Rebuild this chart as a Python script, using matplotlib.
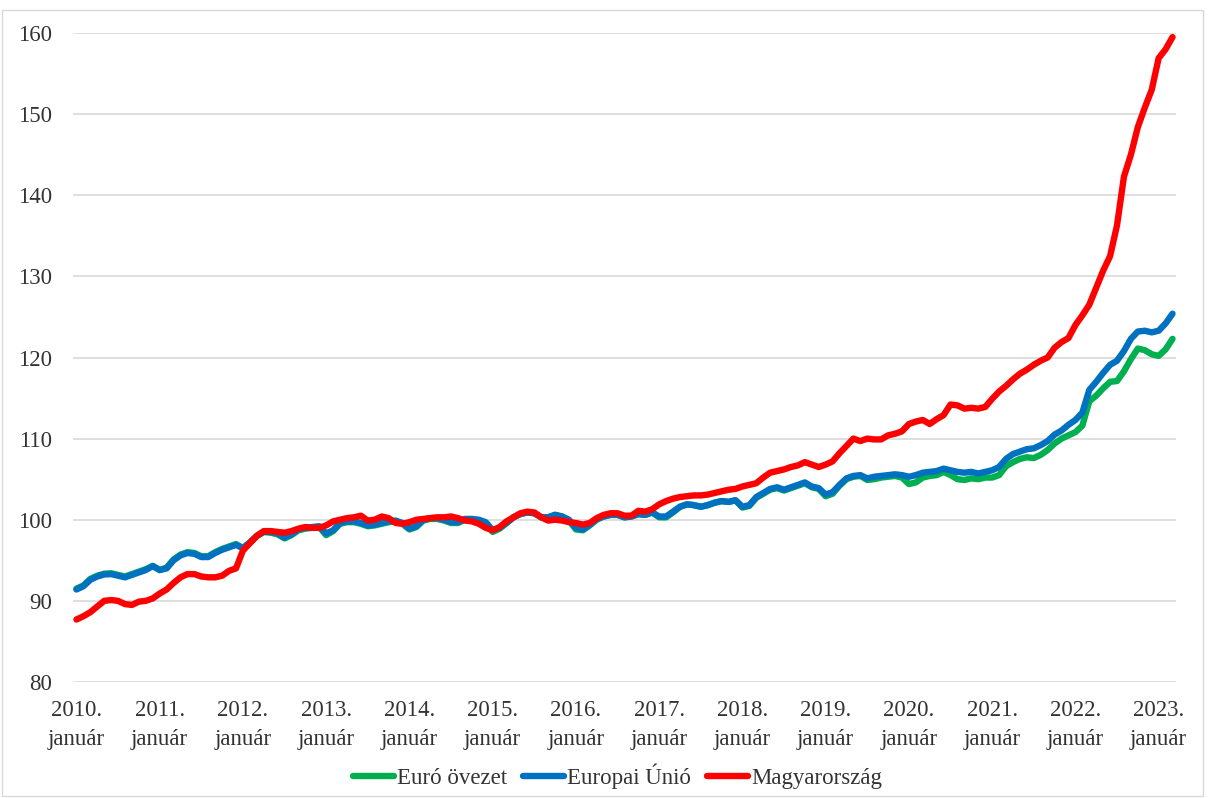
import matplotlib
matplotlib.use("Agg")
import matplotlib.pyplot as plt
from matplotlib.patches import Rectangle

plt.rcParams['font.family'] = ['Liberation Serif', 'DejaVu Serif']

# Monthly index values, 2010 January - 2023 March
euro_ovezet = [
    # 2010
    91.5, 91.9, 92.7, 93.1, 93.35, 93.4, 93.2, 93.0, 93.3, 93.6, 93.9, 94.3,
    # 2011
    93.8, 94.1, 95.1, 95.7, 96.0, 95.9, 95.5, 95.5, 96.0, 96.4, 96.7, 97.0,
    # 2012
    96.5, 97.2, 98.0, 98.5, 98.4, 98.2, 97.7, 98.1, 98.7, 98.9, 99.0, 99.1,
    # 2013
    98.1, 98.6, 99.5, 99.7, 99.7, 99.5, 99.2, 99.3, 99.5, 99.7, 99.8, 99.5,
    # 2014
    98.8, 99.1, 99.9, 100.1, 100.1, 99.9, 99.6, 99.6, 100.0, 100.0, 99.9, 99.5,
    # 2015
    98.5, 98.9, 99.6, 100.3, 100.7, 100.9, 100.8, 100.3, 100.3, 100.6, 100.4, 99.9,
    # 2016
    98.8, 98.7, 99.3, 100.0, 100.4, 100.6, 100.6, 100.3, 100.4, 100.7, 100.6, 100.9,
    # 2017
    100.3, 100.3, 100.9, 101.6, 101.9, 101.8, 101.6, 101.8, 102.1, 102.3, 102.2, 102.4,
    # 2018
    101.5, 101.7, 102.7, 103.2, 103.7, 103.9, 103.6, 103.9, 104.2, 104.5, 104.0, 103.8,
    # 2019
    102.9, 103.2, 104.2, 105.0, 105.3, 105.4, 104.9, 105.0, 105.2, 105.3, 105.4, 105.2,
    # 2020
    104.4, 104.6, 105.2, 105.4, 105.5, 105.9, 105.5, 105.0, 104.9, 105.1, 105.0, 105.2,
    # 2021
    105.2, 105.5, 106.6, 107.1, 107.5, 107.7, 107.6, 108.0, 108.6, 109.4, 110.0, 110.4,
    # 2022
    110.8, 111.6, 114.6, 115.3, 116.2, 117.0, 117.1, 118.3, 119.8, 121.1, 120.9, 120.4,
    # 2023
    120.2, 121.0, 122.3,
]

europai_unio = [
    # 2010
    91.4, 91.8, 92.6, 93.0, 93.25, 93.3, 93.1, 92.9, 93.2, 93.5, 93.8, 94.3,
    # 2011
    93.8, 94.0, 95.0, 95.6, 95.9, 95.8, 95.4, 95.4, 95.9, 96.3, 96.6, 96.9,
    # 2012
    96.5, 97.2, 98.0, 98.5, 98.5, 98.3, 97.8, 98.2, 98.8, 99.0, 99.1, 99.2,
    # 2013
    98.3, 98.7, 99.6, 99.8, 99.8, 99.6, 99.3, 99.4, 99.6, 99.8, 99.9, 99.6,
    # 2014
    98.9, 99.2, 100.0, 100.2, 100.2, 100.0, 99.7, 99.7, 100.1, 100.1, 100.0, 99.7,
    # 2015
    98.7, 99.0, 99.6, 100.3, 100.7, 100.9, 100.8, 100.3, 100.3, 100.6, 100.4, 100.0,
    # 2016
    99.0, 98.8, 99.4, 100.1, 100.4, 100.6, 100.6, 100.3, 100.4, 100.7, 100.6, 100.9,
    # 2017
    100.4, 100.4, 101.0, 101.6, 101.9, 101.8, 101.6, 101.8, 102.1, 102.3, 102.2, 102.4,
    # 2018
    101.6, 101.8, 102.8, 103.3, 103.8, 104.0, 103.7, 104.0, 104.3, 104.6, 104.1, 103.9,
    # 2019
    103.1, 103.4, 104.3, 105.1, 105.4, 105.5, 105.1, 105.3, 105.4, 105.5, 105.6, 105.5,
    # 2020
    105.3, 105.5, 105.8, 105.9, 106.0, 106.3, 106.1, 105.9, 105.8, 105.9, 105.7, 105.9,
    # 2021
    106.1, 106.5, 107.5, 108.1, 108.4, 108.7, 108.8, 109.2, 109.7, 110.5, 111.0, 111.7,
    # 2022
    112.3, 113.2, 116.0, 117.0, 118.1, 119.1, 119.6, 120.8, 122.3, 123.2, 123.3, 123.1,
    # 2023
    123.3, 124.2, 125.4,
]

magyarorszag = [
    # 2010
    87.7, 88.1, 88.6, 89.3, 90.0, 90.1, 90.0, 89.6, 89.5, 89.9, 90.0, 90.3,
    # 2011
    90.9, 91.4, 92.2, 92.9, 93.3, 93.3, 93.0, 92.9, 92.9, 93.1, 93.7, 94.0,
    # 2012
    96.2, 97.1, 98.0, 98.6, 98.6, 98.5, 98.4, 98.6, 98.9, 99.1, 99.0, 99.0,
    # 2013
    99.3, 99.8, 100.0, 100.2, 100.3, 100.5, 99.9, 100.0, 100.4, 100.2, 99.6, 99.5,
    # 2014
    99.7, 100.0, 100.1, 100.2, 100.3, 100.3, 100.4, 100.2, 99.9, 99.8, 99.5, 99.0,
    # 2015
    98.7, 99.1, 99.8, 100.3, 100.8, 101.0, 100.9, 100.3, 99.9, 100.0, 99.9, 99.7,
    # 2016
    99.6, 99.4, 99.6, 100.2, 100.6, 100.8, 100.8, 100.5, 100.5, 101.1, 101.0, 101.3,
    # 2017
    101.9, 102.3, 102.6, 102.8, 102.9, 103.0, 103.0, 103.1, 103.3, 103.5, 103.7, 103.8,
    # 2018
    104.1, 104.3, 104.5, 105.2, 105.8, 106.0, 106.2, 106.5, 106.7, 107.1, 106.8, 106.5,
    # 2019
    106.8, 107.2, 108.2, 109.1, 110.0, 109.7, 110.0, 109.9, 109.9, 110.4, 110.6, 110.9,
    # 2020
    111.8, 112.1, 112.3, 111.8, 112.4, 112.9, 114.2, 114.1, 113.7, 113.8, 113.7, 113.9,
    # 2021
    114.9, 115.8, 116.5, 117.3, 118.0, 118.5, 119.1, 119.6, 120.0, 121.2, 121.9, 122.4,
    # 2022
    124.0, 125.2, 126.5, 128.6, 130.7, 132.5, 136.3, 142.3, 145.0, 148.4, 150.8, 153.0,
    # 2023
    156.9, 158.0, 159.5,
]

series_names = ["Euró övezet", "Europai Únió", "Magyarország"]
series_colors = ["#00B050", "#0070C0", "#FF0000"]
year_labels = [f"{y}.\njanuár" for y in range(2010, 2024)]
y_ticks = [80, 90, 100, 110, 120, 130, 140, 150, 160]

fig = plt.figure(figsize=(12.08, 7.98), dpi=100)
ax = fig.add_axes([0.0604, 0.1454, 0.9131, 0.8132])

x = list(range(len(magyarorszag)))
for data, name, color in zip([euro_ovezet, europai_unio, magyarorszag], series_names, series_colors):
    ax.plot(x, data, color=color, lw=4.6, label=name, solid_capstyle='round', solid_joinstyle='round')

ax.set_xlim(-0.5, len(x) - 0.5)
ax.set_ylim(80, 160)
ax.set_yticks(y_ticks)
ax.set_xticks(list(range(0, len(x), 12)))
ax.set_xticklabels(year_labels)
ax.tick_params(axis='both', length=0, labelsize=16.5, colors='#333333')
ax.tick_params(axis='x', pad=13)
ax.tick_params(axis='y', pad=15)
for lbl in ax.get_xticklabels():
    lbl.set_linespacing(1.5)
ax.grid(axis='y', color='#D9D9D9', lw=1.2)
ax.set_axisbelow(True)
for s in ax.spines.values():
    s.set_visible(False)

leg = fig.legend(loc='center', bbox_to_anchor=(0.511, 0.027), ncol=3, frameon=False,
                 fontsize=16.5, handlelength=1.8, handletextpad=0.12, columnspacing=0.7)
for t in leg.get_texts():
    t.set_color('#333333')

fig.patches.append(Rectangle((0.002, 0.003), 0.994, 0.984, transform=fig.transFigure,
                             fill=False, edgecolor='#D9D9D9', lw=1))

fig.savefig("out.png", dpi=100)
